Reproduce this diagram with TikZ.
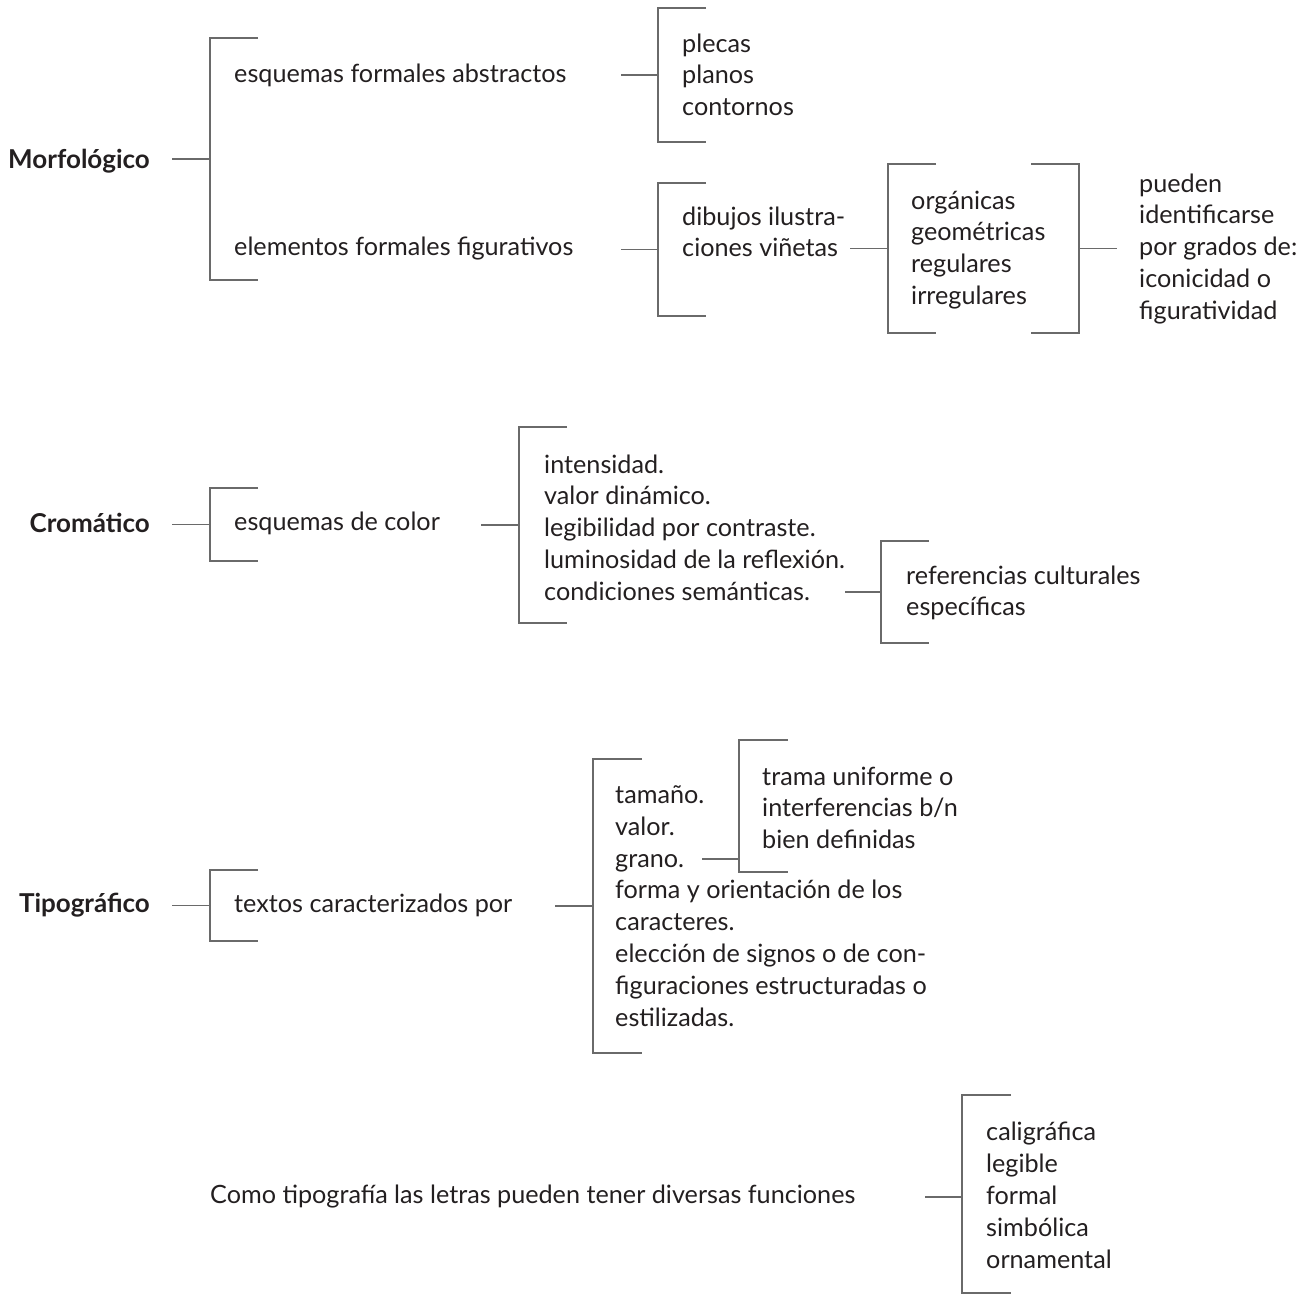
\documentclass[tikz,border=0pt]{standalone}
\usepackage{fontspec}
\setmainfont{Lato}
\usepackage{xcolor}
\definecolor{ink}{HTML}{231F20}
\definecolor{rulegray}{HTML}{6A6A6A}
\tikzset{
  rule/.style={rulegray, line width=1.3pt},
  txt/.style={anchor=base west, inner sep=0pt, align=left, text=ink,
    font=\fontsize{25.2}{31.8}\selectfont},
  head/.style={txt, anchor=base east, font=\fontsize{26}{31.8}\selectfont\bfseries}
}
% bracket opening to the right: name, x, top, bottom, arm
\newcommand\LBrack[5]{
  \def\X{#2} \def\T{#3} \def\B{#4} \def\A{#5}
  \draw[rule] (\X+\A,\T) -- (\X,\T) -- (\X,\B) -- (\X+\A,\B);
  \coordinate (#1) at (\X,{(\T+\B)/2});
}
% bracket opening to the left
\newcommand\RBrack[5]{
  \def\X{#2} \def\T{#3} \def\B{#4} \def\A{#5}
  \draw[rule] (\X-\A,\T) -- (\X,\T) -- (\X,\B) -- (\X-\A,\B);
  \coordinate (#1) at (\X,{(\T+\B)/2});
}
\begin{document}
\begin{tikzpicture}[x=1pt, y=-1pt]
\useasboundingbox (0,0) rectangle (1313,1294);

% Morfologico (lists are placed by the baseline of their last line)
\node[head] (morf) at (150,168) {Morfológico};
\node[txt] (abs) at (234,82) {esquemas formales abstractos};
\node[txt] (fig) at (234,255) {elementos formales figurativos};
\node[txt] (abslist) at (682,115.6) {plecas\\planos\\contornos};
\node[txt] (dib) at (682,256.8) {dibujos ilustra-\\ciones viñetas};
\node[txt] (org) at (911,304.4) {orgánicas\\geométricas\\regulares\\irregulares};
\node[txt] (grad) at (1139,319.2) {pueden\\identificarse\\por grados de:\\iconicidad o\\figuratividad};
\LBrack{bmorf}{210}{38}{280}{48}
\LBrack{babs}{658}{8}{142}{48}
\LBrack{bfig}{658}{183}{316}{48}
\LBrack{borg}{888}{164}{333}{48}
\RBrack{borgr}{1079}{164}{333}{48}
\coordinate (morf-o) at (172,159);
\coordinate (abs-o) at (621,75);
\coordinate (fig-o) at (621,249.5);
\coordinate (dib-o) at (850,248.5);
\coordinate (grad-i) at (1117,248.5);

% Cromatico
\node[head] (crom) at (150,532) {Cromático};
\node[txt] (esq) at (234,530) {esquemas de color};
\node[txt] (int) at (544,600.2) {intensidad.\\valor dinámico.\\legibilidad por contraste.\\luminosidad de la reflexión.\\condiciones semánticas.};
\node[txt] (ref) at (906,615.8) {referencias culturales\\específicas};
\LBrack{bcrom}{210}{488}{561}{48}
\LBrack{besq}{519}{427}{623}{48}
\LBrack{bint}{881}{541}{643}{48}
\coordinate (crom-o) at (172,524.5);
\coordinate (esq-o) at (481,525);
\coordinate (int-o) at (845,592);

% Tipografico
\node[head] (tipo) at (150,912) {Tipográfico};
\node[txt] (tex) at (234,912) {textos caracterizados por};
\node[txt] (tam) at (615,1026) {tamaño.\\valor.\\grano.\\forma y orientación de los\\caracteres.\\elección de signos o de con-\\figuraciones estructuradas o\\estilizadas.};
\node[txt] (tra) at (762,848.6) {trama uniforme o\\interferencias b/n\\bien definidas};
\LBrack{btipo}{210}{870}{941}{48}
\LBrack{btex}{593}{759}{1053}{49}
\LBrack{btra}{739}{740}{872}{49}
\coordinate (tipo-o) at (172,905.5);
\coordinate (tex-o) at (555,906);
\coordinate (gra-o) at (702,859);
\coordinate (gra-i) at (739,859);

% funciones
\node[txt] (como) at (210,1203) {Como tipografía las letras pueden tener diversas funciones};
\node[txt] (fun) at (986,1268) {caligráfica\\legible\\formal\\simbólica\\ornamental};
\draw[rule] (1011,1095) -- (962,1095) -- (962,1293) -- (1011,1293);
\coordinate (bfun) at (962,1197);
\coordinate (como-o) at (925,1197);

\foreach \a/\b in {morf-o/bmorf, abs-o/babs, fig-o/bfig, dib-o/borg,
  borgr/grad-i, crom-o/bcrom, esq-o/besq, int-o/bint, tipo-o/btipo,
  tex-o/btex, gra-o/gra-i, como-o/bfun}
  \draw[rule] (\a) -- (\b);
\end{tikzpicture}
\end{document}
